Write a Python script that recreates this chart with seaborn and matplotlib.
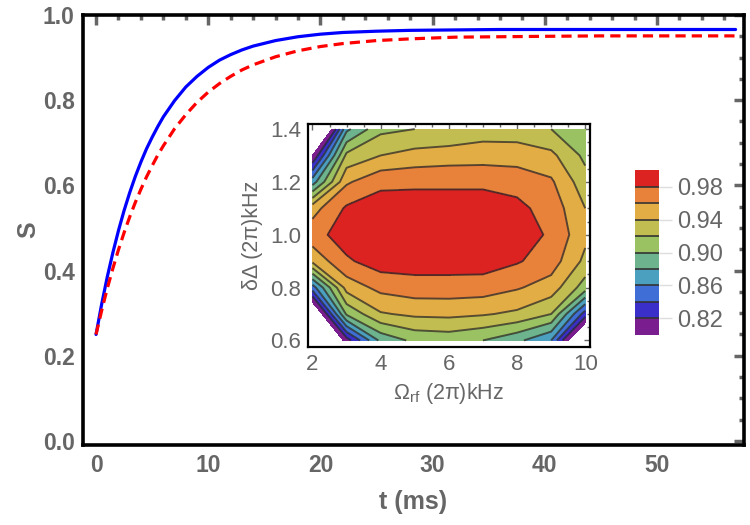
import numpy as np
import pandas as pd
import seaborn as sns
import matplotlib.pyplot as plt
from matplotlib.ticker import MultipleLocator, FormatStrFormatter
from matplotlib.colors import ListedColormap, BoundaryNorm

# main curves
t_ms = [0, 0.5, 1, 1.5, 2, 2.5, 3, 3.5, 4, 4.5, 5, 5.5, 6, 7, 8, 9, 10, 11, 12,
        13, 14, 16, 18, 20, 22, 25, 28, 32, 36, 40, 45, 50, 57]
s_blue = [0.250, 0.321, 0.385, 0.442, 0.494, 0.541, 0.583, 0.621, 0.655, 0.686,
          0.713, 0.738, 0.761, 0.799, 0.831, 0.856, 0.877, 0.894, 0.907, 0.918,
          0.927, 0.940, 0.949, 0.955, 0.959, 0.962, 0.964, 0.965, 0.966, 0.966,
          0.966, 0.966, 0.966]
s_red = [0.250, 0.306, 0.358, 0.405, 0.449, 0.489, 0.526, 0.560, 0.591, 0.620,
         0.646, 0.671, 0.693, 0.733, 0.766, 0.795, 0.819, 0.839, 0.856, 0.871,
         0.883, 0.902, 0.916, 0.926, 0.933, 0.940, 0.944, 0.948, 0.949, 0.950,
         0.951, 0.951, 0.951]

# inset map: rows = delta (0.6 -> 1.4), columns = omega_rf (2 -> 10)
omega_rf = [2, 3, 4, 5, 6, 7, 8, 9, 10]
delta = [0.6, 0.7, 0.8, 0.9, 1.0, 1.1, 1.2, 1.3, 1.4]
fidelity = [
    [0.710, 0.810, 0.885, 0.905, 0.908, 0.900, 0.885, 0.860, 0.740],
    [0.760, 0.903, 0.938, 0.944, 0.945, 0.942, 0.936, 0.920, 0.830],
    [0.850, 0.948, 0.966, 0.971, 0.971, 0.970, 0.962, 0.951, 0.910],
    [0.945, 0.977, 0.990, 0.990, 0.990, 0.990, 0.982, 0.970, 0.935],
    [0.972, 0.990, 0.995, 0.996, 0.996, 0.995, 0.990, 0.977, 0.945],
    [0.952, 0.983, 0.990, 0.990, 0.990, 0.990, 0.985, 0.972, 0.940],
    [0.870, 0.957, 0.975, 0.976, 0.976, 0.976, 0.973, 0.963, 0.928],
    [0.800, 0.925, 0.940, 0.947, 0.950, 0.951, 0.950, 0.945, 0.915],
    [0.700, 0.875, 0.915, 0.920, 0.922, 0.930, 0.930, 0.920, 0.905],
]
levels = [0.80, 0.82, 0.84, 0.86, 0.88, 0.90, 0.92, 0.94, 0.96, 0.98, 1.00]
level_colors = ['#7a1e8f', '#3a2fc8', '#3f6fd6', '#4b9fbf', '#6db48e',
                '#9ac262', '#c2bd50', '#e3ad45', '#e8813a', '#dd2222']
cbar_ticks = [0.82, 0.86, 0.90, 0.94, 0.98]

gray = '#666666'
sns.set_style('white')
plt.rcParams['font.family'] = ['Liberation Sans', 'DejaVu Sans']
plt.rcParams['mathtext.fontset'] = 'custom'
plt.rcParams['mathtext.rm'] = 'Liberation Sans'
plt.rcParams['mathtext.it'] = 'Liberation Sans:italic'

fig = plt.figure(figsize=(7.5, 5.25), dpi=100)
ax = fig.add_axes([0.1107, 0.152, 0.8813, 0.8194])

sns.lineplot(x=t_ms, y=s_blue, ax=ax, color='#0000ff', lw=2.3, errorbar=None)
sns.lineplot(x=t_ms, y=s_red, ax=ax, color='#ff0000', lw=2.3, errorbar=None,
             linestyle=(0, (3.2, 1.9)))

ax.set_xlim(-1.16, 57.75)
ax.set_ylim(-0.01, 1.0)
ax.xaxis.set_major_locator(MultipleLocator(10))
ax.xaxis.set_minor_locator(MultipleLocator(2))
ax.yaxis.set_major_locator(MultipleLocator(0.2))
ax.yaxis.set_minor_locator(MultipleLocator(0.05))
ax.yaxis.set_major_formatter(FormatStrFormatter('%.1f'))
ax.tick_params(which='both', direction='in', top=True, right=True,
               color=gray, width=2.5, labelcolor=gray, labelsize=16.5)
ax.tick_params(which='major', length=7, pad=6)
ax.tick_params(which='minor', length=3.5)
for sp in ax.spines.values():
    sp.set_linewidth(2.6)
    sp.set_color('black')

for lbl in ax.get_xticklabels() + ax.get_yticklabels():
    lbl.set_fontweight('bold')
ax.set_xlabel('t (ms)', color=gray, labelpad=10, fontweight='bold', fontsize=18)
ax.set_ylabel('S', color=gray, labelpad=2, fontweight='bold', fontsize=18)

# inset contour map
ins = fig.add_axes([0.4107, 0.339, 0.376, 0.4248])
cmap = ListedColormap(level_colors)
norm = BoundaryNorm(levels, cmap.N)
cs = ins.contourf(omega_rf, delta, fidelity, levels=levels, cmap=cmap, norm=norm)
ins.contour(omega_rf, delta, fidelity, levels=levels[1:-1], colors='#2a2a2a',
            linewidths=1.4, alpha=0.75)
ins.set_xlim(1.87, 10.14)
ins.set_ylim(0.575, 1.419)
ins.xaxis.set_major_locator(MultipleLocator(2))
ins.xaxis.set_minor_locator(MultipleLocator(0.5))
ins.yaxis.set_major_locator(MultipleLocator(0.2))
ins.yaxis.set_minor_locator(MultipleLocator(0.05))
ins.yaxis.set_major_formatter(FormatStrFormatter('%.1f'))
ins.tick_params(which='both', direction='in', top=True, right=True,
                color=gray, width=1, labelcolor=gray, labelsize=16)
ins.tick_params(which='major', length=4, pad=5)
ins.tick_params(which='minor', length=2)
for sp in ins.spines.values():
    sp.set_linewidth(1.6)
    sp.set_color('black')
ins.set_xlabel('Ω$_{\\rm rf}$ (2π)kHz', color=gray, fontsize=15.5, labelpad=4)
ins.set_ylabel('δΔ (2π)kHz', color=gray, fontsize=15.5, labelpad=5)

cax = fig.add_axes([0.8467, 0.362, 0.032, 0.314])
cb = fig.colorbar(cs, cax=cax, ticks=cbar_ticks, drawedges=True)
cb.outline.set_visible(False)
cb.dividers.set_color('#333333')
cb.dividers.set_linewidth(1.2)
cb.ax.yaxis.set_major_formatter(FormatStrFormatter('%.2f'))
cax.tick_params(color='#dddddd', length=9, width=1, labelcolor=gray,
                labelsize=17, pad=4)
cax.minorticks_off()

fig.savefig('out.png', dpi=100)
